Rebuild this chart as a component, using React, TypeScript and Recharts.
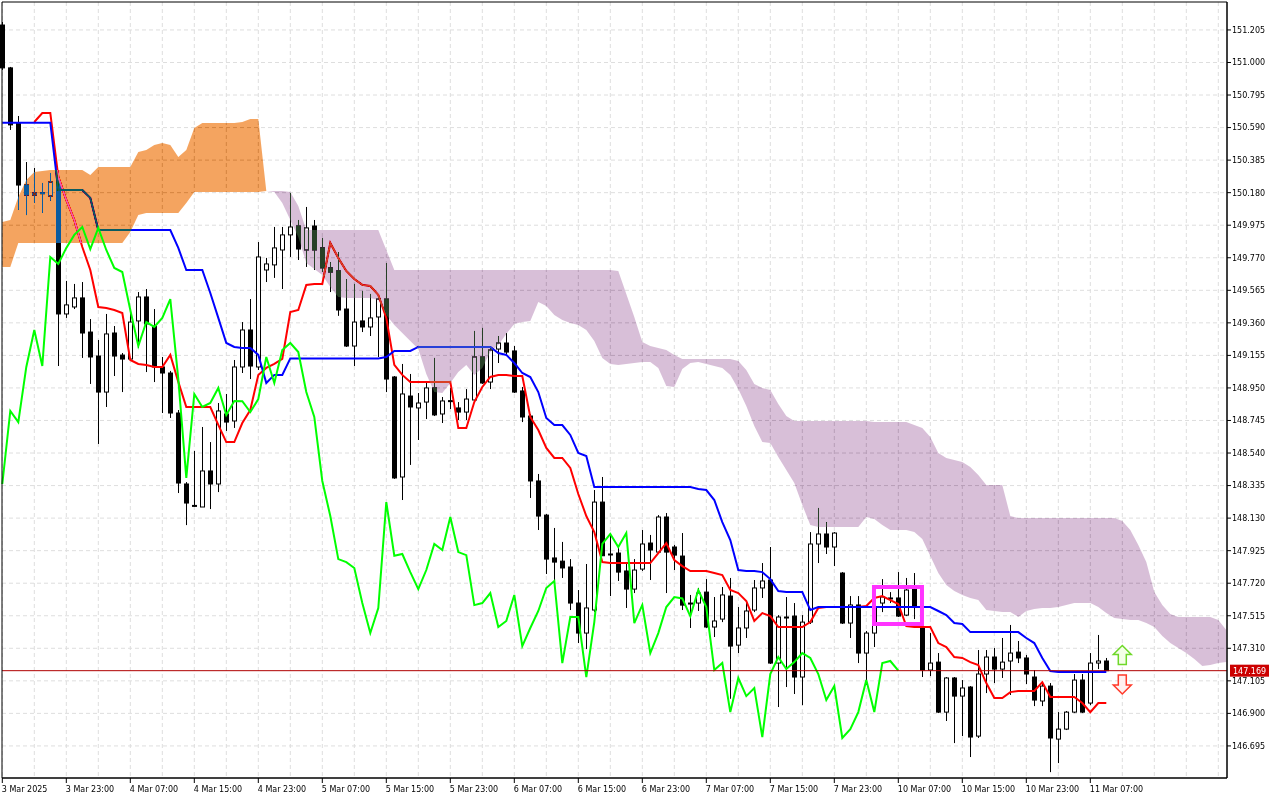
import React from 'react'
import {
  ComposedChart,
  XAxis,
  YAxis,
  CartesianGrid,
  Bar,
  Line,
  Area,
  ReferenceLine,
  ReferenceArea,
  ReferenceDot,
} from 'recharts'

// H1 candles, one entry per bar starting at 3 Mar 2025 15:00
const opens = [
  151.236, 150.966, 150.619, 150.228, 150.165, 150.18, 150.159, 150.247, 149.416, 149.46,
  149.517, 149.302, 149.151, 148.924, 149.296, 149.157, 149.132, 149.372, 149.523, 149.34,
  149.082, 149.044, 148.792, 148.345, 148.206, 148.2, 148.427, 148.345, 148.786, 148.742,
  149.082, 149.315, 149.082, 149.693, 149.725, 149.819, 149.914, 149.97, 149.819, 149.97,
  149.832, 149.706, 149.687, 149.447, 149.214, 149.372, 149.334, 149.397, 149.51, 149.019,
  148.389, 148.899, 148.824, 148.861, 148.95, 148.786, 148.87, 148.824, 148.798, 148.874,
  149.145, 148.987, 149.195, 149.233, 149.183, 148.931, 148.773, 148.364, 148.149, 147.879,
  147.859, 147.822, 147.595, 147.406, 147.551, 148.231, 147.904, 147.91, 147.797, 147.683,
  147.809, 147.973, 147.916, 148.137, 147.948, 147.891, 147.589, 147.595, 147.664, 147.444,
  147.494, 147.639, 147.33, 147.438, 147.551, 147.69, 147.74, 147.217, 147.507, 147.513,
  147.129, 147.475, 147.967, 148.03, 147.948, 147.784, 147.469, 147.583, 147.28, 147.406,
  147.595, 147.627, 147.627, 147.519, 147.683, 147.444, 147.173, 147.223, 146.908, 147.123,
  147.009, 147.066, 146.757, 147.148, 147.255, 147.179, 147.23, 147.286, 147.249, 147.129,
  146.978, 147.072, 146.738, 146.801, 146.908, 147.11, 146.965, 147.217, 147.23,
]
const highs = [
  151.255, 150.972, 150.663, 150.373, 150.336, 150.241, 150.304, 150.304, 149.624, 149.605,
  149.617, 149.384, 149.252, 149.416, 149.34, 149.17, 149.422, 149.554, 149.573, 149.447,
  149.145, 149.057, 148.811, 148.357, 148.553, 148.704, 148.609, 148.855, 148.912, 149.126,
  149.365, 149.51, 149.869, 149.769, 149.964, 149.964, 150.178, 150.008, 150.09, 150.008,
  149.895, 149.743, 149.806, 149.636, 149.605, 149.561, 149.542, 149.529, 149.737, 149.025,
  149.101, 149.038, 148.918, 148.987, 149.139, 148.893, 148.95, 148.861, 148.943, 149.309,
  149.328, 149.202, 149.277, 149.296, 149.214, 148.956, 148.786, 148.408, 148.156, 148.068,
  147.98, 147.872, 147.677, 147.841, 148.307, 148.389, 148.03, 147.948, 147.853, 147.872,
  148.055, 148.024, 148.149, 148.162, 147.961, 148.036, 147.646, 147.69, 147.746, 147.633,
  147.696, 147.753, 147.57, 147.595, 147.74, 147.847, 147.948, 147.519, 147.633, 147.595,
  147.519, 148.042, 148.194, 148.105, 148.042, 147.79, 147.639, 147.639, 147.419, 147.633,
  147.746, 147.664, 147.79, 147.753, 147.784, 147.45, 147.406, 147.28, 147.129, 147.129,
  147.11, 147.072, 147.299, 147.299, 147.312, 147.375, 147.457, 147.356, 147.268, 147.173,
  147.097, 147.091, 146.908, 146.915, 147.148, 147.148, 147.28, 147.394, 147.249,
]
const lows = [
  150.953, 150.575, 150.071, 150.039, 150.115, 150.052, 150.128, 149.088, 149.391, 149.447,
  149.139, 148.975, 148.597, 148.83, 149.025, 148.924, 149.12, 149.202, 149.05, 148.987,
  148.792, 148.761, 148.288, 148.086, 148.2, 148.2, 148.187, 148.294, 148.679, 148.698,
  149.044, 149.006, 149.063, 149.617, 149.643, 149.573, 149.775, 149.756, 149.712, 149.693,
  149.68, 149.554, 149.404, 149.208, 149.088, 149.302, 149.277, 149.145, 148.924, 148.377,
  148.244, 148.465, 148.622, 148.754, 148.773, 148.729, 148.817, 148.748, 148.748, 148.855,
  148.975, 148.943, 149.107, 149.158, 148.918, 148.735, 148.257, 148.055, 147.778, 147.74,
  147.753, 147.551, 147.343, 147.305, 147.538, 147.891, 147.639, 147.734, 147.564, 147.658,
  147.797, 147.74, 147.91, 147.658, 147.803, 147.551, 147.438, 147.545, 147.438, 147.381,
  147.475, 146.992, 147.28, 147.375, 147.538, 147.627, 147.211, 146.94, 147.066, 147.022,
  146.952, 147.463, 147.847, 147.904, 147.828, 147.463, 147.375, 147.217, 147.079, 147.318,
  147.538, 147.595, 147.507, 147.513, 147.494, 147.129, 147.135, 146.902, 146.852, 146.713,
  146.757, 146.625, 146.745, 147.028, 147.091, 147.123, 147.016, 147.217, 147.085, 146.946,
  146.946, 146.53, 146.587, 146.795, 146.902, 146.902, 146.952, 147.179, 147.167,
]
const closes = [
  150.966, 150.607, 150.228, 150.165, 150.178, 150.178, 150.247, 149.416, 149.473, 149.517,
  149.296, 149.145, 148.924, 149.29, 149.151, 149.132, 149.365, 149.523, 149.353, 149.082,
  149.044, 148.792, 148.351, 148.225, 148.21, 148.427, 148.345, 148.805, 148.735, 149.082,
  149.315, 149.088, 149.775, 149.731, 149.832, 149.914, 149.964, 149.825, 149.958, 149.819,
  149.706, 149.68, 149.441, 149.214, 149.365, 149.334, 149.391, 149.51, 149.006, 148.383,
  148.912, 148.83, 148.855, 148.95, 148.78, 148.868, 148.866, 148.798, 148.88, 149.145,
  148.981, 149.189, 149.233, 149.176, 148.924, 148.767, 148.364, 148.143, 147.872, 147.853,
  147.816, 147.595, 147.406, 147.564, 148.231, 147.893, 147.904, 147.79, 147.683, 147.803,
  147.967, 147.929, 148.137, 147.916, 147.897, 147.582, 147.595, 147.658, 147.444, 147.482,
  147.646, 147.324, 147.438, 147.545, 147.69, 147.734, 147.217, 147.507, 147.507, 147.129,
  147.475, 147.967, 148.03, 147.948, 148.036, 147.469, 147.583, 147.28, 147.406, 147.57,
  147.633, 147.624, 147.513, 147.677, 147.57, 147.173, 147.217, 146.908, 147.123, 147.009,
  147.06, 146.751, 147.148, 147.255, 147.179, 147.223, 147.28, 147.249, 147.148, 146.984,
  147.072, 146.745, 146.801, 146.908, 147.11, 146.908, 147.217, 147.23, 147.169,
]

// Ichimoku lines
const tenkan = [
  null, null, null, null, 150.625, 150.682, 150.682, 150.279, 150.134, 150.008,
  149.838, 149.693, 149.46, 149.454, 149.441, 149.422, 149.126, 149.101, 149.095, 149.082,
  149.082, 149.158, 148.988, 148.83, 148.83, 148.83, 148.83, 148.717, 148.609, 148.609,
  148.729, 148.811, 149.032, 149.076, 149.101, 149.133, 149.428, 149.441, 149.599, 149.605,
  149.605, 149.863, 149.769, 149.687, 149.636, 149.599, 149.592, 149.536, 149.391, 149.095,
  149.032, 148.988, 148.988, 148.988, 148.988, 148.988, 148.988, 148.698, 148.698, 148.861,
  148.956, 149.019, 149.032, 149.032, 149.025, 149.025, 148.767, 148.685, 148.572, 148.509,
  148.509, 148.446, 148.282, 148.143, 148.042, 147.853, 147.847, 147.847, 147.847, 147.847,
  147.847, 147.847, 147.91, 147.973, 147.866, 147.828, 147.797, 147.797, 147.797, 147.784,
  147.771, 147.677, 147.658, 147.608, 147.482, 147.532, 147.513, 147.444, 147.444, 147.444,
  147.444, 147.475, 147.564, 147.57, 147.57, 147.57, 147.57, 147.57, 147.576, 147.627,
  147.639, 147.614, 147.589, 147.45, 147.444, 147.444, 147.444, 147.343, 147.318, 147.255,
  147.249, 147.223, 147.204, 147.091, 146.997, 146.997, 147.034, 147.041, 147.041, 147.041,
  147.097, 147.003, 147.003, 147.003, 147.003, 146.965, 146.908, 146.965, 146.965,
]
const kijun = [
  150.621, 150.621, 150.621, 150.621, 150.621, 150.621, 150.621, 150.197, 150.197, 150.197,
  150.197, 150.147, 149.945, 149.945, 149.945, 149.945, 149.945, 149.945, 149.945, 149.945,
  149.945, 149.945, 149.832, 149.693, 149.693, 149.693, 149.548, 149.391, 149.233, 149.208,
  149.202, 149.202, 149.158, 148.981, 149.032, 149.032, 149.136, 149.136, 149.136, 149.136,
  149.136, 149.136, 149.136, 149.136, 149.136, 149.136, 149.136, 149.136, 149.145, 149.183,
  149.183, 149.183, 149.208, 149.208, 149.208, 149.208, 149.208, 149.208, 149.208, 149.208,
  149.208, 149.208, 149.17, 149.158, 149.107, 149.044, 149.019, 148.924, 148.761, 148.716,
  148.716, 148.654, 148.54, 148.521, 148.326, 148.326, 148.326, 148.326, 148.326, 148.326,
  148.326, 148.326, 148.326, 148.326, 148.326, 148.326, 148.326, 148.313, 148.307, 148.244,
  148.105, 147.992, 147.803, 147.797, 147.797, 147.79, 147.746, 147.671, 147.664, 147.664,
  147.664, 147.551, 147.57, 147.57, 147.57, 147.57, 147.57, 147.57, 147.57, 147.57,
  147.57, 147.57, 147.57, 147.57, 147.57, 147.57, 147.57, 147.545, 147.519, 147.469,
  147.463, 147.412, 147.412, 147.412, 147.412, 147.412, 147.412, 147.412, 147.375, 147.343,
  147.249, 147.167, 147.16, 147.16, 147.16, 147.16, 147.16, 147.16, 147.16,
]
// Senkou spans as plotted (already shifted 26 bars ahead)
const spanA = [
  149.995, 150.008, 150.153, 150.26, 150.31, 150.317, 150.323, 150.323, 150.323, 150.323,
  150.323, 150.291, 150.342, 150.342, 150.342, 150.342, 150.342, 150.436, 150.449, 150.481,
  150.493, 150.481, 150.405, 150.449, 150.588, 150.619, 150.619, 150.619, 150.619, 150.619,
  150.625, 150.644, 150.644, 150.19, 150.184, 150.115, 150.008, 149.901, 149.737, 149.699,
  149.662, 149.586, 149.523, 149.517, 149.517, 149.517, 149.517, 149.504, 149.409, 149.347,
  149.296, 149.246, 149.195, 149.038, 148.924, 148.918, 148.981, 149.05, 149.095, 149.032,
  149.076, 149.176, 149.221, 149.29, 149.353, 149.365, 149.372, 149.491, 149.466, 149.409,
  149.378, 149.359, 149.347, 149.315, 149.246, 149.139, 149.101, 149.095, 149.101, 149.107,
  149.113, 149.113, 149.076, 148.962, 148.956, 149.069, 149.107, 149.113, 149.101, 149.088,
  149.076, 149.032, 148.943, 148.836, 148.71, 148.609, 148.603, 148.515, 148.433, 148.351,
  148.213, 148.087, 148.074, 148.074, 148.074, 148.074, 148.074, 148.074, 148.137, 148.124,
  148.087, 148.055, 148.055, 148.055, 148.042, 147.998, 147.891, 147.784, 147.709, 147.671,
  147.646, 147.627, 147.614, 147.551, 147.545, 147.538, 147.538, 147.507, 147.545, 147.557,
  147.564, 147.564, 147.57, 147.583, 147.595, 147.595, 147.595, 147.57, 147.532, 147.501,
  147.494, 147.488, 147.488, 147.469, 147.444, 147.387, 147.343, 147.312, 147.28, 147.242,
  147.198, 147.204, 147.217, 147.223,
]
const spanB = [
  149.712, 149.712, 149.863, 149.863, 149.863, 149.863, 149.863, 149.863, 149.863, 149.863,
  149.863, 149.863, 149.863, 149.863, 149.863, 149.863, 149.932, 150.039, 150.052, 150.052,
  150.052, 150.052, 150.052, 150.115, 150.184, 150.184, 150.184, 150.184, 150.184, 150.184,
  150.184, 150.184, 150.184, 150.19, 150.191, 150.191, 150.184, 150.096, 149.945, 149.945,
  149.945, 149.945, 149.945, 149.945, 149.945, 149.945, 149.945, 149.945, 149.819, 149.693,
  149.693, 149.693, 149.693, 149.693, 149.693, 149.693, 149.693, 149.693, 149.693, 149.693,
  149.693, 149.693, 149.693, 149.693, 149.693, 149.693, 149.693, 149.693, 149.693, 149.693,
  149.693, 149.693, 149.693, 149.693, 149.693, 149.693, 149.693, 149.687, 149.542, 149.397,
  149.239, 149.214, 149.202, 149.189, 149.158, 149.133, 149.133, 149.133, 149.133, 149.133,
  149.133, 149.133, 149.12, 149.063, 148.975, 148.95, 148.937, 148.849, 148.773, 148.741,
  148.741, 148.741, 148.741, 148.741, 148.741, 148.741, 148.741, 148.741, 148.741, 148.735,
  148.735, 148.735, 148.735, 148.735, 148.716, 148.698, 148.641, 148.54, 148.509, 148.496,
  148.483, 148.452, 148.401, 148.339, 148.339, 148.339, 148.143, 148.131, 148.131, 148.131,
  148.131, 148.131, 148.131, 148.131, 148.131, 148.131, 148.131, 148.131, 148.131, 148.131,
  148.112, 148.055, 147.96, 147.853, 147.664, 147.583, 147.526, 147.507, 147.507, 147.507,
  147.507, 147.507, 147.488, 147.425,
]
const CHIKOU_SHIFT = 26

const timeLabels = [
  '3 Mar 2025', '3 Mar 23:00', '4 Mar 07:00', '4 Mar 15:00', '4 Mar 23:00', '5 Mar 07:00',
  '5 Mar 15:00', '5 Mar 23:00', '6 Mar 07:00', '6 Mar 15:00', '6 Mar 23:00', '7 Mar 07:00',
  '7 Mar 15:00', '7 Mar 23:00', '10 Mar 07:00', '10 Mar 15:00', '10 Mar 23:00', '11 Mar 07:00',
]
const labelBars = [0, 8, 16, 24, 32, 40, 48, 56, 64, 72, 80, 88, 96, 104, 112, 120, 128, 136]
const gridBars = [
  0, 4, 8, 12, 16, 20, 24, 28, 32, 36, 40, 44, 48, 52, 56, 60, 64, 68, 72, 76,
  80, 84, 88, 92, 96, 100, 104, 108, 112, 116, 120, 124, 128, 132, 136, 140, 144, 148, 152,
]
const priceTicks = [
  146.695, 146.9, 147.105, 147.31, 147.515, 147.72, 147.925, 148.13, 148.335, 148.54,
  148.745, 148.95, 149.155, 149.36, 149.565, 149.77, 149.975, 150.18, 150.385, 150.59,
  150.795, 151.0, 151.205,
]
const lastPrice = 147.169
const xDomain = [-0.0375, 153.0875]
const yDomain = [146.493, 151.381]

// chart objects
const signalBar = 140
const buySignal = 147.268
const sellSignal = 147.082
const boxBars = [108.96, 114.96]
const boxPrices = [147.463, 147.696]

const FONT = 'DejaVu Sans, Verdana, sans-serif'

const rows = spanA.map((a, k) => {
  const b = spanB[k]
  const hasCandle = k < opens.length
  return {
    k,
    range: hasCandle ? [lows[k], highs[k]] : null,
    o: hasCandle ? opens[k] : null,
    h: hasCandle ? highs[k] : null,
    l: hasCandle ? lows[k] : null,
    c: hasCandle ? closes[k] : null,
    tenkan: tenkan[k] ?? null,
    kijun: kijun[k] ?? null,
    chikou: closes[k + CHIKOU_SHIFT] ?? null,
    upCloud: a >= b ? [b, a] : null,
    downCloud: b >= a ? [a, b] : null,
  }
})

function Candle(props: any) {
  const { x, y, width, height, payload } = props
  if (!payload || payload.o == null) return null
  const { o, h, l, c } = payload
  const top = Math.min(y, y + height)
  const len = Math.abs(height)
  const cx = Math.round(x + width / 2) + 0.5
  const yAt = (v: number) => (h > l ? top + ((h - v) / (h - l)) * len : top)
  const bodyTop = yAt(Math.max(o, c))
  const bodyBottom = yAt(Math.min(o, c))
  const bull = c >= o
  return (
    <g>
      <line x1={cx} x2={cx} y1={top} y2={top + len} stroke="#000" strokeWidth={1} />
      <rect
        x={cx - 2}
        y={bodyTop}
        width={4}
        height={Math.max(bodyBottom - bodyTop, 1)}
        fill={bull ? '#fff' : '#000'}
        stroke="#000"
        strokeWidth={1}
      />
    </g>
  )
}

function TimeTick(props: any) {
  const { x, y, index } = props
  return (
    <text x={x - 0.5} y={y} dy="0.71em" textAnchor="start" fill="#000" fontSize={8} fontFamily={FONT}>
      {timeLabels[index]}
    </text>
  )
}

function PriceTag(props: any) {
  const vb = props.viewBox
  if (!vb) return null
  const x = vb.x + vb.width + 3
  return (
    <g>
      <rect x={x} y={vb.y - 6} width={39} height={12} fill="#cc0000" />
      <text x={x + 3} y={vb.y} dy="0.36em" fill="#fff" fontSize={8} fontFamily={FONT}>
        {lastPrice.toFixed(3)}
      </text>
    </g>
  )
}

function UpArrow(props: any) {
  const { cx, cy } = props
  const d = `M${cx},${cy - 9.5} L${cx + 9},${cy - 0.5} L${cx + 4},${cy - 0.5} L${cx + 4},${cy + 9.5} L${cx - 4},${cy + 9.5} L${cx - 4},${cy - 0.5} L${cx - 9},${cy - 0.5} Z`
  return <path d={d} fill="#f4ffe8" stroke="#6fd82a" strokeWidth={1.5} />
}

function DownArrow(props: any) {
  const { cx, cy } = props
  const d = `M${cx},${cy + 9.5} L${cx + 9},${cy + 0.5} L${cx + 4},${cy + 0.5} L${cx + 4},${cy - 9.5} L${cx - 4},${cy - 9.5} L${cx - 4},${cy + 0.5} L${cx - 9},${cy + 0.5} Z`
  return <path d={d} fill="#fff0f0" stroke="#ff3a2a" strokeWidth={1.5} />
}

// the cloud is painted as an inverted colour in difference mode, so white turns into
// the cloud colour and black candles inside it turn into the inverse, as MT5 draws it
const blendCss = `
.cloud, .cloud > g, .cloud path { mix-blend-mode: difference; }
`

export default function App() {
  return (
    <div
      style={{
        position: 'absolute',
        left: 0,
        top: 0,
        width: 1280,
        height: 800,
        background: '#fff',
        fontFamily: FONT,
      }}
    >
      <style>{blendCss}</style>
      <ComposedChart width={1280} height={800} data={rows} margin={{ top: 2, right: 0, bottom: 0, left: 2 }}>
        <CartesianGrid
          fill="#fff"
          stroke="#dedede"
          strokeDasharray="4 3"
          verticalValues={gridBars}
          horizontalValues={priceTicks}
        />
        <XAxis
          dataKey="k"
          type="number"
          domain={xDomain}
          ticks={labelBars}
          interval={0}
          height={22}
          tickSize={5}
          tickMargin={3}
          tick={<TimeTick />}
          axisLine={{ stroke: '#000' }}
          tickLine={{ stroke: '#000' }}
        />
        <YAxis
          orientation="right"
          type="number"
          domain={yDomain}
          ticks={priceTicks}
          interval={0}
          width={53}
          tickSize={4}
          tickMargin={1}
          tickFormatter={(v: number) => v.toFixed(3)}
          tick={{ fill: '#000', fontSize: 8, fontFamily: FONT }}
          axisLine={{ stroke: '#000' }}
          tickLine={{ stroke: '#000' }}
        />
        <Bar dataKey="range" barSize={5} shape={<Candle />} isAnimationActive={false} zIndex={300} />
        <Line
          dataKey="tenkan"
          type="linear"
          stroke="#ff0000"
          strokeWidth={2}
          dot={false}
          activeDot={false}
          isAnimationActive={false}
          zIndex={310}
        />
        <Line
          dataKey="kijun"
          type="linear"
          stroke="#0000ff"
          strokeWidth={2}
          dot={false}
          activeDot={false}
          isAnimationActive={false}
          zIndex={320}
        />
        <Area
          className="cloud"
          dataKey="upCloud"
          type="linear"
          stroke="none"
          fill="#0b5b9f"
          fillOpacity={1}
          dot={false}
          activeDot={false}
          isAnimationActive={false}
          zIndex={330}
        />
        <Area
          className="cloud"
          dataKey="downCloud"
          type="linear"
          stroke="none"
          fill="#274027"
          fillOpacity={1}
          dot={false}
          activeDot={false}
          isAnimationActive={false}
          zIndex={331}
        />
        <Line
          dataKey="chikou"
          type="linear"
          stroke="#00ff00"
          strokeWidth={2}
          dot={false}
          activeDot={false}
          isAnimationActive={false}
          zIndex={340}
        />
        <ReferenceLine y={lastPrice} stroke="#b00000" strokeWidth={1} label={<PriceTag />} zIndex={350} />
        <ReferenceArea
          x1={boxBars[0]}
          x2={boxBars[1]}
          y1={boxPrices[0]}
          y2={boxPrices[1]}
          fill="none"
          stroke="#ff33ff"
          strokeWidth={4}
          ifOverflow="visible"
          zIndex={360}
        />
        <ReferenceArea
          x1={xDomain[0]}
          x2={xDomain[1]}
          y1={yDomain[0]}
          y2={yDomain[1]}
          fill="none"
          stroke="#000"
          strokeWidth={1}
          ifOverflow="visible"
          zIndex={370}
        />
        <ReferenceDot x={signalBar} y={buySignal} shape={UpArrow} ifOverflow="visible" zIndex={380} />
        <ReferenceDot x={signalBar} y={sellSignal} shape={DownArrow} ifOverflow="visible" zIndex={380} />
      </ComposedChart>
    </div>
  )
}
